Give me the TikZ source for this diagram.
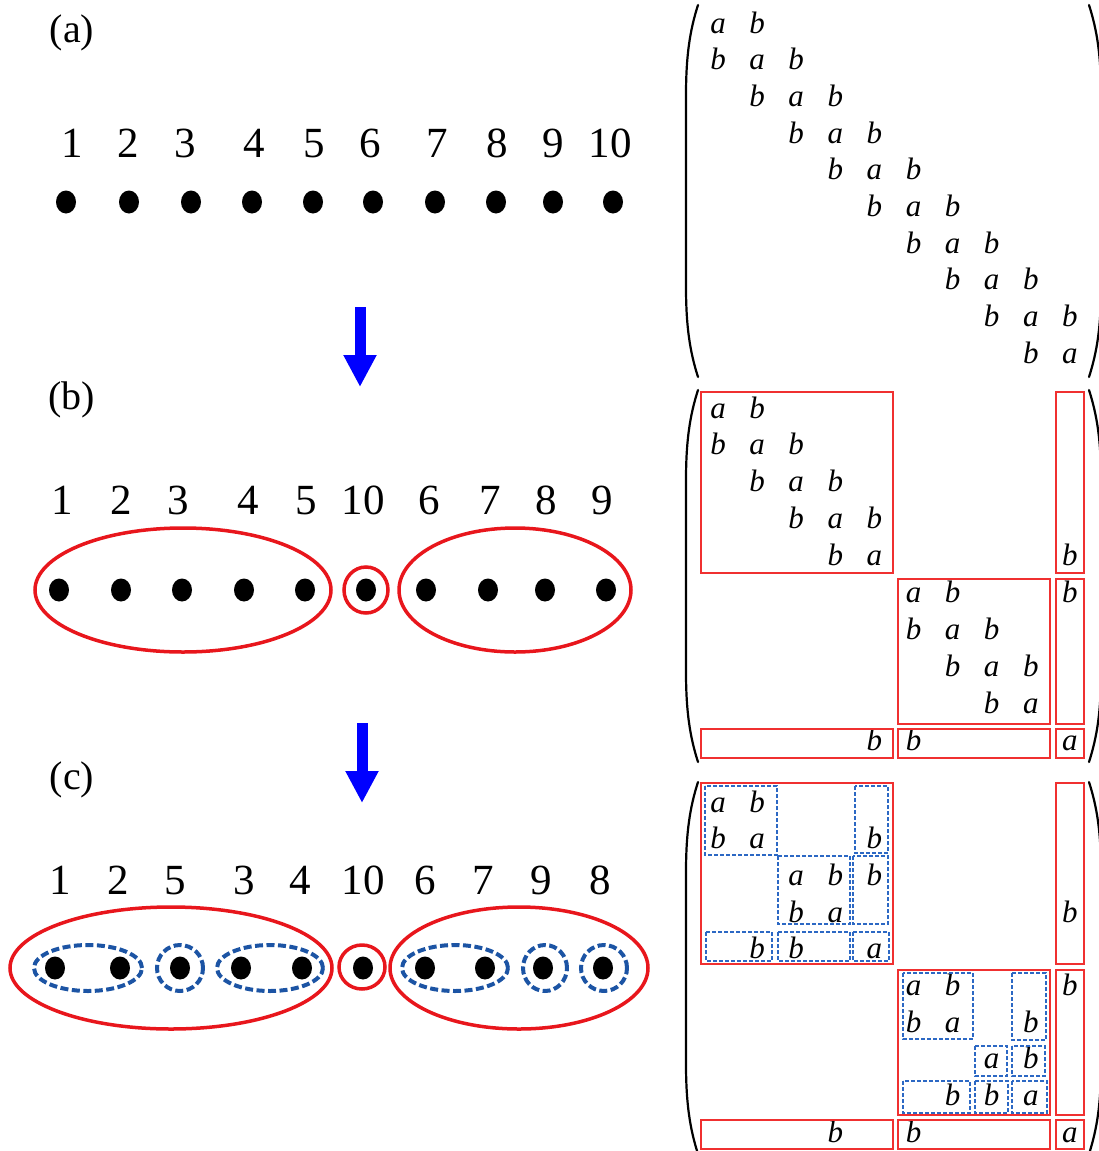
\documentclass[tikz,border=0pt]{standalone}
\usepackage{fontspec}
\setmainfont{Liberation Serif}
\usetikzlibrary{shapes.geometric,arrows.meta}
\definecolor{grpred}{RGB}{232,22,28}
\definecolor{subblue}{RGB}{28,84,164}
\definecolor{boxred}{RGB}{240,48,48}
\definecolor{boxblue}{RGB}{44,104,196}

\begin{document}
\begin{tikzpicture}[x=1pt, y=-1pt,
    every node/.style={inner sep=0pt, outer sep=0pt},
    lbl/.style={anchor=base, font=\fontsize{40}{40}\selectfont},
    num/.style={anchor=base, font=\fontsize{43}{43}\selectfont},
    site/.style={ellipse, fill=black, minimum width=20, minimum height=23},
    grp/.style={ellipse, draw=grpred, line width=3.5pt},
    sub/.style={ellipse, draw=subblue, line width=4pt, dash pattern=on 8pt off 3.5pt},
    ent/.style={anchor=base, font=\fontsize{31}{31}\selectfont\itshape},
    blk/.style={draw=boxred, line width=1.5pt},
    sblk/.style={draw=boxblue, line width=1.4pt, dash pattern=on 4pt off 2pt},
    down/.style={-{Triangle[width=31pt,length=32pt]}, line width=11pt, blue},
    paren/.style={line width=2.2pt, line cap=round}]
  \useasboundingbox (0,0) rectangle (1098,1151);

  % panel labels
  \node[lbl] (la) at (72,42) {(a)};
  \node[lbl] (lb) at (72,409) {(b)};
  \node[lbl] (lc) at (72,789) {(c)};

  % (a) chain
  \foreach \x/\n [count=\k] in {72/1,128/2,185/3,254/4,314/5,370/6,437/7,497/8,553/9,610/10}
    \node[num] (na-\k) at (\x,157) {\n};
  \foreach \x [count=\k] in {66,129,191,252,313,373,435,496,553,613}
    \node[site] (sa-\k) at (\x,202) {};

  % (b) chain
  \foreach \x/\n [count=\k] in {62/1,121/2,178/3,248/4,306/5,363/10,429/6,490/7,546/8,602/9}
    \node[num] (nb-\k) at (\x,514) {\n};
  \foreach \x [count=\k] in {59,121,182,244,305,366,426,488,545,606}
    \node[site] (sb-\k) at (\x,590) {};
  \node[grp, minimum width=296, minimum height=124] (gb-1) at (183,590) {};
  \node[grp, minimum width=44, minimum height=46] (gb-2) at (366,590) {};
  \node[grp, minimum width=232, minimum height=124] (gb-3) at (515,590) {};

  % (c) chain
  \foreach \x/\n [count=\k] in {60/1,118/2,175/5,244/3,300/4,363/10,425/6,483/7,541/9,600/8}
    \node[num] (nc-\k) at (\x,894) {\n};
  \foreach \x [count=\k] in {55,120,180,241,302,363,425,485,543,603}
    \node[site] (sc-\k) at (\x,968) {};
  \node[grp, minimum width=322, minimum height=122] (gc-1) at (171,968) {};
  \node[grp, minimum width=46, minimum height=44] (gc-2) at (362,967) {};
  \node[grp, minimum width=258, minimum height=122] (gc-3) at (519,968) {};
  \node[sub, minimum width=108, minimum height=46] (hc-1) at (88,968) {};
  \node[sub, minimum width=46, minimum height=46] (hc-2) at (180,968) {};
  \node[sub, minimum width=106, minimum height=46] (hc-3) at (270,968) {};
  \node[sub, minimum width=106, minimum height=46] (hc-4) at (455,968) {};
  \node[sub, minimum width=44, minimum height=46] (hc-5) at (545,968) {};
  \node[sub, minimum width=46, minimum height=46] (hc-6) at (604,968) {};

  % arrows between panels
  \coordinate (ab-top) at (360,307);
  \coordinate (ab-tip) at (360,387);
  \coordinate (bc-top) at (362,723);
  \coordinate (bc-tip) at (362,803);
  \draw[down] (ab-top) -- (ab-tip);
  \draw[down] (bc-top) -- (bc-tip);

  % matrix brackets
  \foreach \t in {5,390,782} {
    \draw[paren] (698,\t) .. controls (690,\t+25) and (686,\t+50) .. (686,\t+90)
      -- (686,\t+282) .. controls (686,\t+322) and (690,\t+347) .. (698,\t+372);
    \draw[paren] (1089,\t) .. controls (1097,\t+25) and (1101,\t+50) .. (1101,\t+90)
      -- (1101,\t+282) .. controls (1101,\t+322) and (1097,\t+347) .. (1089,\t+372);
  }

  % (a) matrix
  \foreach \r in {1,...,10}
    \node[ent] (ma-\r-\r) at ({718+39.1*(\r-1)},{33+36.7*(\r-1)}) {a};
  \foreach \r [evaluate=\r as \s using int(\r+1)] in {1,...,9} {
    \node[ent] (ma-\r-\s) at ({718+39.1*(\s-1)},{33+36.7*(\r-1)}) {b};
    \node[ent] (ma-\s-\r) at ({718+39.1*(\r-1)},{33+36.7*(\s-1)}) {b};
  }

  % (b) matrix
  \foreach \r/\c/\t in {1/1/a,1/2/b,2/1/b,2/2/a,2/3/b,3/2/b,3/3/a,3/4/b,4/3/b,4/4/a,4/5/b,
      5/4/b,5/5/a,5/10/b,6/6/a,6/7/b,6/10/b,7/6/b,7/7/a,7/8/b,8/7/b,8/8/a,8/9/b,
      9/8/b,9/9/a,10/5/b,10/6/b,10/10/a}
    \node[ent] (mb-\r-\c) at ({718+39.1*(\c-1)},{418+36.9*(\r-1)}) {\t};
  \draw[blk] (701,392) rectangle (893,573);
  \draw[blk] (1056,392) rectangle (1084,573);
  \draw[blk] (898,579) rectangle (1050,724);
  \draw[blk] (1056,579) rectangle (1084,724);
  \draw[blk] (701,729) rectangle (893,758);
  \draw[blk] (898,729) rectangle (1050,758);
  \draw[blk] (1056,729) rectangle (1084,758);

  % (c) matrix
  \foreach \r/\c/\t in {1/1/a,1/2/b,2/1/b,2/2/a,2/5/b,3/3/a,3/4/b,3/5/b,4/3/b,4/4/a,4/10/b,
      5/2/b,5/3/b,5/5/a,6/6/a,6/7/b,6/10/b,7/6/b,7/7/a,7/9/b,8/8/a,8/9/b,
      9/7/b,9/8/b,9/9/a,10/4/b,10/6/b,10/10/a}
    \node[ent] (mc-\r-\c) at ({718+39.1*(\c-1)},{812+36.7*(\r-1)}) {\t};
  \draw[blk] (701,783) rectangle (893,964);
  \draw[blk] (1056,783) rectangle (1084,964);
  \draw[blk] (898,970) rectangle (1050,1115);
  \draw[blk] (1056,970) rectangle (1084,1115);
  \draw[blk] (701,1120) rectangle (893,1149);
  \draw[blk] (898,1120) rectangle (1050,1149);
  \draw[blk] (1056,1120) rectangle (1084,1149);
  \draw[sblk] (705,786) rectangle (777,855);
  \draw[sblk] (855,786) rectangle (888,853);
  \draw[sblk] (778,856) rectangle (850,924);
  \draw[sblk] (853,856) rectangle (888,924);
  \draw[sblk] (706,932) rectangle (772,961);
  \draw[sblk] (778,932) rectangle (850,961);
  \draw[sblk] (853,932) rectangle (889,961);
  \draw[sblk] (903,973) rectangle (973,1039);
  \draw[sblk] (1012,973) rectangle (1046,1040);
  \draw[sblk] (975,1046) rectangle (1007,1076);
  \draw[sblk] (1012,1046) rectangle (1045,1076);
  \draw[sblk] (903,1081) rectangle (970,1113);
  \draw[sblk] (975,1081) rectangle (1008,1113);
  \draw[sblk] (1012,1081) rectangle (1047,1113);
\end{tikzpicture}
\end{document}
